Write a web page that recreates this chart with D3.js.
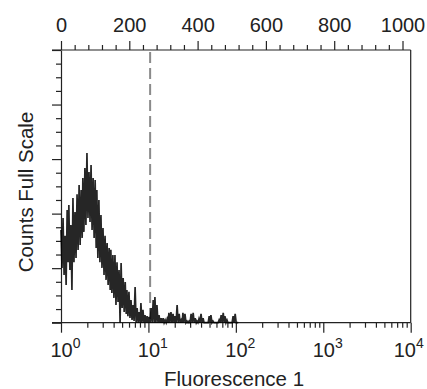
<!DOCTYPE html>
<html>
<head>
<meta charset="utf-8">
<script src="https://cdn.jsdelivr.net/npm/d3@7"></script>
<style>
  body { margin: 0; background: #fff; }
  text { font-family: "Liberation Sans", Arial, Helvetica, sans-serif; fill: #222; }
  .axis path, .axis line { stroke: #222; stroke-width: 1.2; }
</style>
</head>
<body>
<div id="chart"></div>
<script>
// histogram bins (channel number, 0-1024 = 4 log decades)
const channels = [0,6,12,18,23,29,35,41,47,53,59,64,70,76,82,88,94,100,105,111,117,123,129,135,141,146,152,158,164,170,176,182,188,193,199,205,211,217,223,229,234,240,246,252,258,264,270,275,281,287,293,299,305,311,316,322,328,334,340,346,352,357,363,369,375,381,387,393,398,404,410,416,422,428,434,439,445,451,457,463,469,475,480,486,492,498,504,510,516];
// upper and lower count in each bin (% of full scale)
const countsHigh = [34.0,38.4,31.9,41.3,43.2,35.8,45.7,40.6,47.1,50.5,48.7,53.1,56.7,62.2,55.3,57.8,53.1,52.3,48.7,45.0,39.5,34.7,31.9,29.2,27.4,26.7,24.8,24.8,22.2,19.3,21.9,16.4,14.9,12.0,11.3,8.3,6.5,13.1,5.4,3.9,7.2,4.7,2.8,2.4,2.1,5.4,8.3,9.4,6.5,2.8,1.7,1.7,1.0,1.4,3.6,3.9,3.2,2.4,6.5,3.2,1.0,3.6,3.2,0.6,0.6,3.2,3.6,1.7,0.6,1.4,3.2,1.7,0,0,2.4,2.8,0.6,0,0,1.0,2.8,3.6,2.4,1.0,0,0,2.4,3.2,0];
const countsLow = [20.1,17.5,13.8,22.2,19.3,12.0,22.2,23.7,26.7,28.5,31.1,33.3,35.8,38.4,36.9,34.0,31.1,27.4,23.7,22.2,20.1,17.5,15.7,13.8,12.0,10.9,9.1,6.5,7.6,0,5.4,3.9,3.2,2.4,1.7,1.0,0.6,0,0,0,0,0,0,0,0,0,0,0,0,0,0,0,0,0,0,0,0,0,0,0,0,0,0,0,0,0,0,0,0,0,0,0,0,0,0,0,0,0,0,0,0,0,0,0,0,0,0,0,0];

// axis ticks
const topTicks = [0, 200, 400, 600, 800, 1000];
const bottomTicks = [1, 10, 100, 1000, 10000];
const leftTicks = [0, 20, 40, 60, 80, 100];
const gateChannel = 261;

const width = 427, height = 389;
const margin = { top: 50, right: 16.3, bottom: 66.3, left: 61 };
const innerW = width - margin.left - margin.right;
const innerH = height - margin.top - margin.bottom;

const svg = d3.select('#chart')
  .append('svg')
  .attr('width', width)
  .attr('height', height);

const chart = svg.append('g')
  .attr('transform', `translate(${margin.left},${margin.top})`);

// channel scale on top, log fluorescence scale at the bottom (same pixels)
const xChan = d3.scaleLinear().domain([0, 1024]).range([0, innerW]);
const xLog = d3.scaleLog().domain([1, 10000]).range([0, innerW]);
const y = d3.scaleLinear().domain([0, 100]).range([innerH, 0]);

// minor ticks
const topMinor = d3.range(0, 1025, 40).filter(v => v % 200 !== 0);
const leftMinor = d3.range(0, 101, 5).filter(v => v % 20 !== 0);
const logMinor = [];
bottomTicks.slice(0, -1).forEach(d => { for (let k = 2; k < 10; k++) logMinor.push(d * k); });

// top axis
chart.append('g').attr('class', 'axis')
  .call(d3.axisTop(xChan).tickValues(topMinor).tickSize(5).tickFormat(''))
  .select('.domain').remove();
const topAxis = chart.append('g').attr('class', 'axis')
  .call(d3.axisTop(xChan).tickValues(topTicks).tickSize(9).tickSizeOuter(0).tickPadding(9).tickFormat(d3.format('d')));
topAxis.select('.domain').attr('d', `M${-9},0H${innerW}`);
topAxis.selectAll('text').style('font-size', '20px');

// left axis
chart.append('g').attr('class', 'axis')
  .call(d3.axisLeft(y).tickValues(leftMinor).tickSize(5).tickFormat(''))
  .select('.domain').remove();
chart.append('g').attr('class', 'axis')
  .call(d3.axisLeft(y).tickValues(leftTicks).tickSize(9).tickSizeOuter(0).tickFormat(''));

// right border
chart.append('line')
  .attr('x1', innerW).attr('x2', innerW)
  .attr('y1', 0).attr('y2', innerH)
  .attr('stroke', '#222').attr('stroke-width', 1.2);

// bottom axis
chart.append('g').attr('class', 'axis')
  .attr('transform', `translate(0,${innerH})`)
  .call(d3.axisBottom(xLog).tickValues(logMinor).tickSize(5).tickFormat(''))
  .select('.domain').remove();
const bottomAxis = chart.append('g').attr('class', 'axis')
  .attr('transform', `translate(0,${innerH})`)
  .call(d3.axisBottom(xLog).tickValues(bottomTicks).tickSize(10).tickSizeOuter(0).tickFormat(''));
bottomAxis.select('.domain').attr('d', `M${-9},0H${innerW}`);

bottomAxis.selectAll('.tick').each(function(d, i) {
  // last label is pulled in so it stays inside the figure
  let shift = i == bottomTicks.length - 1 ? -17.5 : -11.1;
  let t = d3.select(this).append('text')
    .attr('x', shift)
    .attr('y', 34)
    .attr('text-anchor', 'start')
    .style('font-size', '20px');
  t.append('tspan').text('10');
  t.append('tspan')
    .attr('dy', -9)
    .style('font-size', '14px')
    .text(Math.round(Math.log10(d)));
});

// gate marker
chart.append('line')
  .attr('x1', xChan(gateChannel)).attr('x2', xChan(gateChannel))
  .attr('y1', 2).attr('y2', innerH)
  .attr('stroke', '#8a8a8a')
  .attr('stroke-width', 2)
  .attr('stroke-dasharray', '11,5');

// histogram, drawn as a dense zigzag between high and low counts
let pts = [];
channels.forEach((c, i) => {
  pts.push([c, countsHigh[i]]);
  pts.push([c + 3, countsLow[i]]);
});
let line = d3.line()
  .x(d => xChan(d[0]))
  .y(d => y(d[1]));
chart.append('path')
  .datum(pts)
  .attr('fill', 'none')
  .attr('stroke', '#000')
  .attr('stroke-opacity', 0.85)
  .attr('stroke-width', 1.7)
  .attr('d', line);

// axis titles
svg.append('text')
  .attr('x', 234)
  .attr('y', 386)
  .attr('text-anchor', 'middle')
  .style('font-size', '20.5px')
  .text('Fluorescence 1');

svg.append('text')
  .attr('transform', 'translate(33,192) rotate(-90)')
  .attr('text-anchor', 'middle')
  .style('font-size', '20.5px')
  .text('Counts Full Scale');
</script>
</body>
</html>
